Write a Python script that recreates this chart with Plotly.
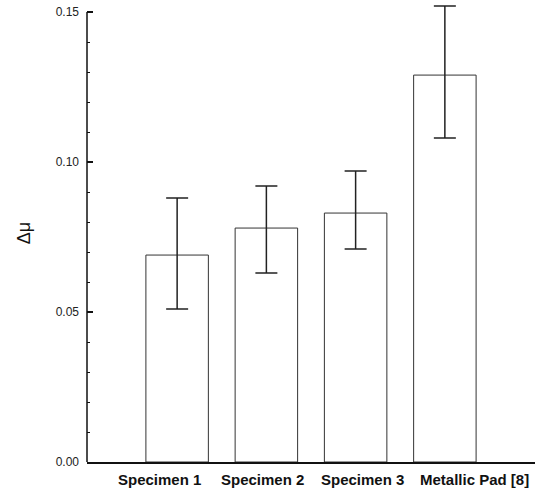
import plotly.graph_objects as go

categories = ["Specimen 1", "Specimen 2", "Specimen 3", "Metallic Pad [8]"]
mean_values = [0.069, 0.078, 0.083, 0.129]
err_upper = [0.088, 0.092, 0.097, 0.152]
err_lower = [0.051, 0.063, 0.071, 0.108]
y_ticks = [0.00, 0.05, 0.10, 0.15]
y_ticktext = ["0.00", "0.05", "0.10", "0.15"]

plus = [u - m for u, m in zip(err_upper, mean_values)]
minus = [m - l for m, l in zip(mean_values, err_lower)]

fig = go.Figure(go.Bar(
    x=list(range(len(categories))),
    y=mean_values,
    width=0.70,
    marker=dict(color="white", line=dict(color="#333333", width=1)),
    error_y=dict(type="data", symmetric=False, array=plus, arrayminus=minus,
                 color="#222222", thickness=1.5, width=11),
    cliponaxis=False,
))

# y axis line only up to the top tick
fig.add_shape(type="line", xref="paper", yref="y", x0=0, x1=0, y0=0, y1=y_ticks[-1],
              line=dict(color="#111111", width=1.5))

# category labels (placed under each bar, nudged as in the original)
label_nudge = [-18, -4, 7, 30]
for i, (cat, dx) in enumerate(zip(categories, label_nudge)):
    fig.add_annotation(x=i, y=0, xref="x", yref="paper", text="<b>%s</b>" % cat,
                       showarrow=False, xanchor="center", yanchor="top",
                       xshift=dx, yshift=-7,
                       font=dict(size=15, color="#111111"))

fig.update_layout(
    width=542, height=495,
    margin=dict(l=87, r=7, t=4, b=33, autoexpand=False),
    paper_bgcolor="white", plot_bgcolor="white",
    showlegend=False,
    font=dict(family="Liberation Sans, Arial, sans-serif", color="#111111"),
    xaxis=dict(
        range=[-1.01, 4.01],
        tickvals=list(range(len(categories))),
        ticktext=categories,
        showticklabels=False,
        showgrid=False, zeroline=False, automargin=False,
        showline=True, linecolor="#111111", linewidth=1.5,
        ticks="",
    ),
    yaxis=dict(
        range=[0, 0.1527],
        tickvals=y_ticks, ticktext=y_ticktext,
        tickfont=dict(size=12, color="#222222"),
        showgrid=False, zeroline=False, automargin=False,
        showline=False,
        ticks="inside", ticklen=6, tickcolor="#111111", tickwidth=1.5,
        minor=dict(tickvals=[i / 100 for i in range(16)], ticks="inside", ticklen=3,
                   tickcolor="#111111", tickwidth=1),
        ticklabelstandoff=7,
        title=dict(text="Δμ", font=dict(size=18, color="#111111"), standoff=20),
    ),
)

fig.write_html("out.html", config={"displayModeBar": False},
               post_script="document.body.style.margin='0';document.body.style.overflow='hidden';")
